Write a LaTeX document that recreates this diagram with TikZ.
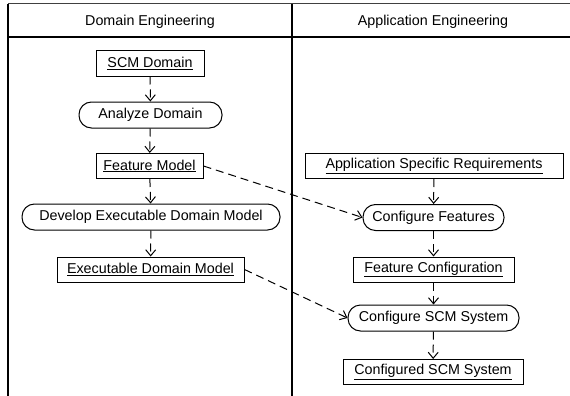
\documentclass[tikz,border=0pt]{standalone}
\usepackage{fontspec}
\setmainfont{Liberation Sans}
\usetikzlibrary{arrows.meta}
\begin{document}
\begin{tikzpicture}[x=1pt,y=-1pt,
  every node/.style={font=\fontsize{14.3}{17}\selectfont, inner sep=0pt},
  obj/.style={draw, line width=1pt, minimum height=25pt},
  act/.style={draw, line width=1pt, rounded corners=12.5pt, minimum height=26pt},
  flow/.style={line width=1pt, dash pattern=on 8pt off 5pt, -{Straight Barb[length=6pt,width=10pt]}},
  frame/.style={line width=1.3pt}]
\useasboundingbox (0,0) rectangle (570,396);
% frame
\draw[line width=1pt, black!75] (8,4) -- (570,4);
\draw[frame] (8,4) -- (8,396);
\draw[frame] (8,37) -- (570,37);
\draw[frame] (292,4) -- (292,396);
\node (t1) at (150,22) {Domain Engineering};
\node (t2) at (433,22) {Application Engineering};
% domain nodes
\node[obj, minimum width=108pt] (scm) at (150,63.5) {\underline{SCM Domain}};
\node[act, minimum width=143pt] (an) at (150.5,115) {Analyze Domain};
\node[obj, minimum width=107pt] (fm) at (149.5,166) {\underline{Feature Model}};
\node[act, minimum width=258pt] (dev) at (151,217) {Develop Executable Domain Model};
\node[obj, minimum width=187pt] (edm) at (150.5,269.5) {\underline{Executable Domain Model}};
% application nodes
\node[obj, minimum width=258pt] (asr) at (434,166) {\underline{Application Specific Requirements}};
\node[act, minimum width=141pt] (cf) at (433.5,217.5) {Configure Features};
\node[obj, minimum width=161pt] (fc) at (433.5,269.5) {\underline{Feature Configuration}};
\node[act, minimum width=171pt] (cs) at (433.5,318) {Configure SCM System};
\node[obj, minimum width=180pt] (csm) at (433,372) {\underline{Configured SCM System}};
% flows
\draw[flow] (scm) -- (an);
\draw[flow] (an) -- (fm);
\draw[flow] (fm) -- (dev);
\draw[flow] (dev) -- (edm);
\draw[flow] (asr) -- (cf);
\draw[flow] (cf) -- (fc);
\draw[flow] (fc) -- (cs);
\draw[flow] (cs) -- (csm);
\draw[flow] (fm.east) -- (cf.west);
\draw[flow] (edm.east) -- (cs.west);
\end{tikzpicture}
\end{document}
